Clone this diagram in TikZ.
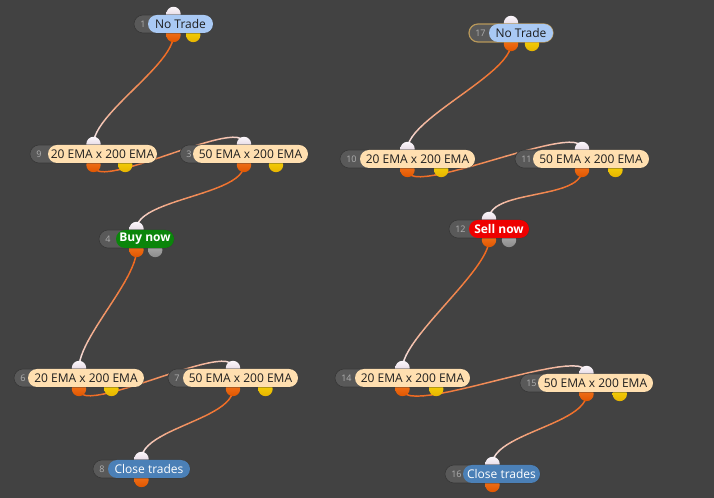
\documentclass[tikz,border=0pt]{standalone}
\usepackage{fontspec}
\setmainfont{Open Sans}
\definecolor{bg}{HTML}{424242}
\definecolor{numgrey}{HTML}{595959}
\definecolor{numedge}{HTML}{383838}
\definecolor{numtxt}{HTML}{B0B0B0}
\definecolor{peachc}{HTML}{FFDFB0}
\definecolor{bluec}{HTML}{A9C9F4}
\definecolor{greenc}{HTML}{0B850B}
\definecolor{redc}{HTML}{EE0000}
\definecolor{steelc}{HTML}{4B80B7}
\definecolor{txtdark}{HTML}{1E1E1E}
\definecolor{goldc}{HTML}{B8985A}
\definecolor{orA}{HTML}{F57A22}
\definecolor{orB}{HTML}{E05600}
\definecolor{yeA}{HTML}{F9D80A}
\definecolor{yeB}{HTML}{E6B400}
\definecolor{grA}{HTML}{B0B0B0}
\definecolor{grB}{HTML}{8C8C8C}
\definecolor{inA}{HTML}{FBF6FA}
\definecolor{inB}{HTML}{D9C8D8}
\definecolor{wireor}{HTML}{F0661A}
\definecolor{wirewh}{HTML}{F6EEF6}
\pgfdeclarelayer{bglayer}
\pgfdeclarelayer{wires}
\pgfsetlayers{bglayer,wires,main}
\tikzset{
  numpill/.style={fill=numgrey, draw=numedge, line width=0.5pt, rounded corners=6.75pt},
  selpill/.style={fill=numgrey, draw=goldc, line width=0.9pt, rounded corners=6.75pt},
  labelpill/.style={rounded corners=6.75pt, minimum height=13.5pt, inner sep=0pt,
    font=\fontsize{9}{10}\selectfont},
  lpeach/.style={fill=peachc, text=txtdark},
  lblue/.style={fill=bluec, text=txtdark},
  lgreen/.style={fill=greenc, text=white, font=\fontsize{9}{10}\selectfont\bfseries},
  lred/.style={fill=redc, text=white, font=\fontsize{9}{10}\selectfont\bfseries},
  lsteel/.style={fill=steelc, text=white},
  port/.style={circle, minimum size=10.8pt, inner sep=0pt},
  inport/.style={top color=inA, bottom color=inB},
  outport/.style={top color=orA, bottom color=orB},
  yport/.style={top color=yeA, bottom color=yeB},
  gport/.style={top color=grA, bottom color=grB},
  noport/.style={opacity=0},
  numtext/.style={font=\fontsize{6.8}{7}\selectfont, text=numtxt, inner sep=0pt, anchor=west},
  wire/.style={line width=1.1pt, line cap=round}
}
% #1 id, #2 number, #3 label, #4 label style, #5 x left, #6 x label, #7 x right, #8 y centre, #9 second port style
\newcommand\fnode[9]{%
  \pgfmathsetmacro\cx{(#5+#7)/2}%
  \pgfmathsetmacro\cxx{\cx+(#7-#5)/4}%
  \pgfmathsetmacro\lw{(#7-#6)*0.75}%
  \pgfmathsetmacro\lc{(#6+#7)/2}%
  \node[port, inport] (#1-in) at (\cx,#8-10) {};
  \node[port, outport] (#1-out) at (\cx,#8+11) {};
  \node[port, #9] (#1-aux) at (\cxx,#8+11) {};
  \draw[\pillstyle] (#5,#8-9) rectangle (#7,#8+9);
  \node[numtext] (#1-num) at (#5+6,#8) {#2};
  \node[labelpill, #4, minimum width=\lw pt] (#1) at (\lc,#8) {#3};
}
\def\pillstyle{numpill}
\newcommand\wire[2]{%
  \path (#1-out.center) .. controls +(0,30) and +(0,-30) .. (#2-in.center)
    \foreach \k in {0,...,24}{ coordinate[pos=\k/24] (w\k) };
  \foreach \k [evaluate=\k as \kn using int(\k+1), evaluate=\k as \pc using 100*(1-(\k/23)^1.7)] in {0,...,23}{
    \draw[wire, draw=wireor!\pc!wirewh] (w\k) -- (w\kn);
  }%
}
\begin{document}
\begin{tikzpicture}[x=0.75pt, y=-0.75pt]
  \useasboundingbox (0,0) rectangle (714,498);
  \begin{pgfonlayer}{bglayer}
    \fill[bg] (0,0) rectangle (714,498);
  \end{pgfonlayer}
  % left flow
  \fnode{n1}{1}{No Trade}{lblue}{134}{148}{213}{24}{yport}
  \fnode{n9}{9}{20 EMA x 200 EMA}{lpeach}{30}{48}{157}{154}{yport}
  \fnode{n3}{3}{50 EMA x 200 EMA}{lpeach}{180}{193}{308}{154}{yport}
  \fnode{n4}{4}{Buy now}{lgreen}{99}{116}{174}{239}{gport}
  \fnode{n6}{6}{20 EMA x 200 EMA}{lpeach}{14}{28}{144}{378}{yport}
  \fnode{n7}{7}{50 EMA x 200 EMA}{lpeach}{168}{183}{298}{378}{yport}
  \fnode{n8}{8}{Close trades}{lsteel}{93}{108}{190}{469}{noport}
  % right flow
  \def\pillstyle{selpill}
  \fnode{n17}{17}{No Trade}{lblue}{469}{489}{553}{33}{yport}
  \def\pillstyle{numpill}
  \fnode{n10}{10}{20 EMA x 200 EMA}{lpeach}{340}{360}{475}{159}{yport}
  \fnode{n11}{11}{50 EMA x 200 EMA}{lpeach}{515}{533}{649}{159}{yport}
  \fnode{n12}{12}{Sell now}{lred}{449}{469}{529}{229}{gport}
  \fnode{n14}{14}{20 EMA x 200 EMA}{lpeach}{335}{355}{470}{378}{yport}
  \fnode{n15}{15}{50 EMA x 200 EMA}{lpeach}{520}{538}{653}{383}{yport}
  \fnode{n16}{16}{Close trades}{lsteel}{445}{463}{540}{474}{noport}
  \begin{pgfonlayer}{wires}
    \wire{n1}{n9}
    \wire{n9}{n3}
    \wire{n3}{n4}
    \wire{n4}{n6}
    \wire{n6}{n7}
    \wire{n7}{n8}
    \wire{n17}{n10}
    \wire{n10}{n11}
    \wire{n11}{n12}
    \wire{n12}{n14}
    \wire{n14}{n15}
    \wire{n15}{n16}
  \end{pgfonlayer}
\end{tikzpicture}
\end{document}
